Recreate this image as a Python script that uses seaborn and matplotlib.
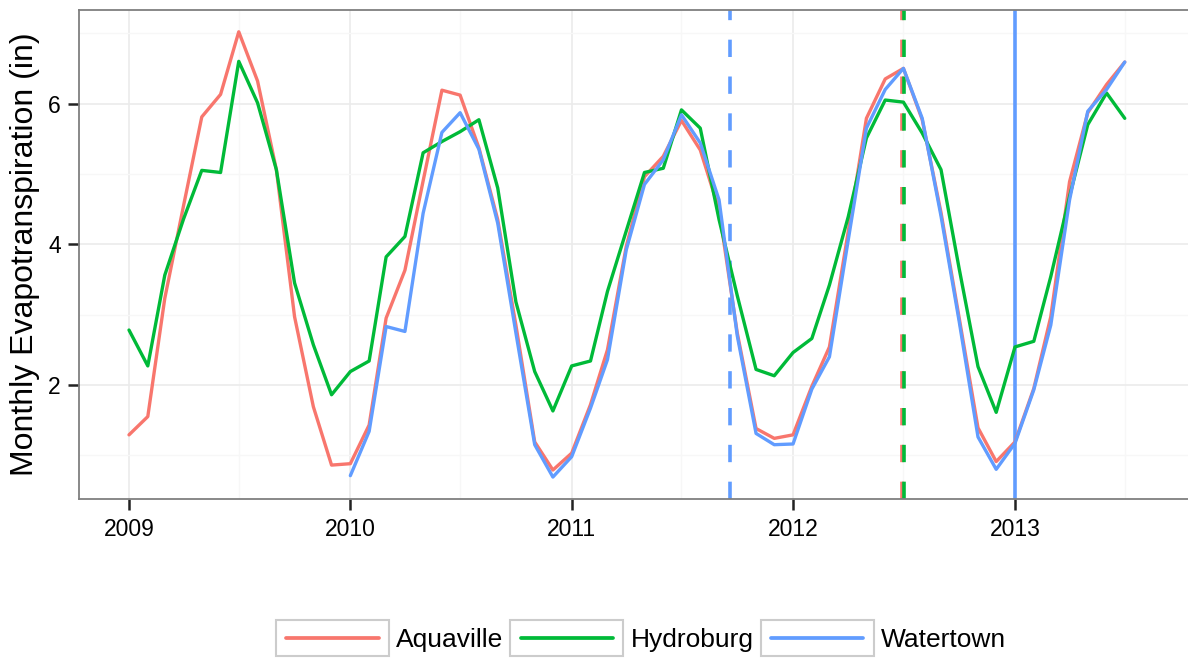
import numpy as np
import pandas as pd
import matplotlib
matplotlib.use("Agg")
import matplotlib.pyplot as plt
import matplotlib.dates as mdates
from matplotlib.legend_handler import HandlerBase
from matplotlib.patches import Rectangle
from matplotlib.lines import Line2D
import seaborn as sns

# ---------------- data ----------------
start_month = "2009-01-01"
n_months = 55
sites = ["Aquaville", "Hydroburg", "Watertown"]
colors = ["#F8766D", "#00BA38", "#619CFF"]

aquaville = [1.29, 1.55, 3.23, 4.55, 5.81, 6.13, 7.02, 6.32, 5.06, 2.97, 1.69, 0.86,
             0.88, 1.43, 2.95, 3.63, 4.90, 6.19, 6.12, 5.37, 4.35, 2.85, 1.19, 0.79,
             1.03, 1.72, 2.50, 3.97, 4.96, 5.25, 5.76, 5.34, 4.49, 2.74, 1.38, 1.24,
             1.29, 1.98, 2.54, 4.18, 5.79, 6.35, 6.50, 5.77, 4.45, 2.95, 1.39, 0.91,
             1.19, 1.95, 2.97, 4.89, 5.87, 6.27, 6.59]
hydroburg = [2.78, 2.27, 3.56, 4.36, 5.05, 5.02, 6.60, 6.01, 5.06, 3.45, 2.57, 1.86,
             2.19, 2.34, 3.82, 4.11, 5.30, 5.46, 5.60, 5.77, 4.80, 3.18, 2.19, 1.63,
             2.27, 2.34, 3.33, 4.19, 5.02, 5.08, 5.91, 5.65, 4.35, 3.27, 2.22, 2.13,
             2.46, 2.66, 3.42, 4.39, 5.51, 6.05, 6.02, 5.58, 5.06, 3.65, 2.26, 1.61,
             2.54, 2.62, 3.54, 4.68, 5.70, 6.15, 5.79]
# Watertown starts in January 2010
watertown = [np.nan] * 12 + [
             0.71, 1.34, 2.83, 2.76, 4.44, 5.59, 5.87, 5.35, 4.30, 2.74, 1.15, 0.69,
             0.98, 1.67, 2.36, 3.92, 4.85, 5.20, 5.84, 5.44, 4.63, 2.70, 1.31, 1.15,
             1.16, 1.94, 2.40, 4.06, 5.65, 6.20, 6.50, 5.79, 4.40, 2.90, 1.26, 0.80,
             1.17, 1.93, 2.85, 4.63, 5.89, 6.20, 6.59]

# event markers (vertical lines)
vline_dates = ["2011-09-19", "2012-06-28", "2012-07-02", "2013-01-01"]
vline_sites = ["Watertown", "Aquaville", "Hydroburg", "Watertown"]
vline_styles = ["dashed", "dashed", "dashed", "solid"]

y_ticks = [2, 4, 6]
y_minor = [1, 3, 5, 7]
y_label = "Monthly Evapotranspiration (in)"

# ---------------- build frame ----------------
dates = pd.date_range(start_month, periods=n_months, freq="MS")
df = pd.concat([
    pd.DataFrame({"date": dates, "et": aquaville, "site": "Aquaville"}),
    pd.DataFrame({"date": dates, "et": hydroburg, "site": "Hydroburg"}),
    pd.DataFrame({"date": dates, "et": watertown, "site": "Watertown"}),
]).dropna()

palette = dict(zip(sites, colors))

sns.set_theme(style="white")
plt.rcParams["font.family"] = ["Liberation Sans", "DejaVu Sans"]
plt.rcParams["text.color"] = "black"

W, H = 1188, 662
fig = plt.figure(figsize=(W / 100, H / 100), dpi=100)
left_px, right_px, top_px, bottom_px = 79, 1230, 10, 499
ax = fig.add_axes([left_px / W, 1 - bottom_px / H,
                   (right_px - left_px) / W, (bottom_px - top_px) / H])

sns.lineplot(data=df, x="date", y="et", hue="site", palette=palette,
             hue_order=sites, linewidth=2.4, legend=False, ax=ax, zorder=3,
             estimator=None)

for d, s, ls in zip(vline_dates, vline_sites, vline_styles):
    kw = dict(color=palette[s], linewidth=2.6, zorder=2)
    if ls == "dashed":
        kw["dashes"] = (4.8, 5.4)
    ax.axvline(pd.Timestamp(d), **kw)

# x limits from pixel layout (2009 tick at 129px, 221.5 px per year)
ppy = 221.5
base = pd.Timestamp("2009-01-01")
ax.set_xlim(base + pd.Timedelta(days=(left_px - 129) / ppy * 365.25),
            base + pd.Timedelta(days=(right_px - 129) / ppy * 365.25))
ax.set_ylim(0.378, 7.33)

ax.xaxis.set_major_locator(mdates.YearLocator())
ax.xaxis.set_major_formatter(mdates.DateFormatter("%Y"))
ax.xaxis.set_minor_locator(mdates.MonthLocator(bymonth=7))
ax.set_yticks(y_ticks)
ax.set_yticks(y_minor, minor=True)

ax.grid(which="major", color="#EBEBEB", linewidth=1.2, zorder=0)
ax.grid(which="minor", color="#F7F7F7", linewidth=1.0, zorder=0)
ax.set_axisbelow(True)

for sp in ax.spines.values():
    sp.set_color("#7F7F7F")
    sp.set_linewidth(1.3)

ax.tick_params(which="major", length=8, width=1.8, color="#222222",
               labelsize=16.5, labelcolor="black", pad=5,
               bottom=True, left=True)
ax.tick_params(axis="x", which="major", pad=6)
ax.tick_params(which="minor", length=0, bottom=False, left=False)

ax.set_xlabel("")
ax.set_ylabel(y_label, fontsize=23, color="black", va="center")
ax.yaxis.set_label_coords((25 - left_px) / (right_px - left_px), 0.5)


class BoxedLine(HandlerBase):
    def create_artists(self, legend, orig_handle, xdescent, ydescent,
                       width, height, fontsize, trans):
        x0, y0 = -xdescent, -ydescent
        rect = Rectangle((x0, y0), width, height, facecolor="white",
                         edgecolor="#CCCCCC", linewidth=1.5, transform=trans)
        m = 0.09 * width
        ln = Line2D([x0 + m, x0 + width - m], [y0 + height / 2] * 2,
                    color=orig_handle.get_color(), linewidth=2.7,
                    transform=trans)
        return [rect, ln]


handles = [Line2D([], [], color=c) for c in colors]
fig.legend(handles, sites, handler_map={Line2D: BoxedLine()},
           loc="center left", bbox_to_anchor=(276 / W, 1 - 638 / H),
           ncol=3, frameon=False, fontsize=19, handlelength=4.28,
           handleheight=1.78, handletextpad=0.27, columnspacing=0.27,
           borderpad=0, borderaxespad=0, labelcolor="black")

fig.savefig("out.png", dpi=100)
